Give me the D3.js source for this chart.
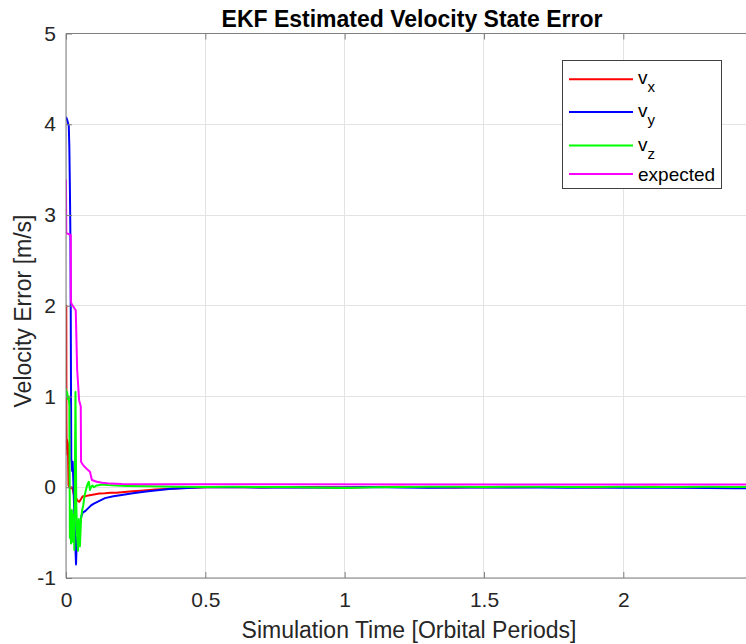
<!DOCTYPE html>
<html><head><meta charset="utf-8">
<script src="https://cdn.jsdelivr.net/npm/d3@7"></script>
<style>
body{margin:0;background:#fff;}
svg{display:block;font-family:"Liberation Sans",Arial,Helvetica,sans-serif;}
</style></head>
<body><svg id="chart" width="746" height="644"></svg>
<script>
// ---- data ----
const titleText = "EKF Estimated Velocity State Error";
const xLabelText = "Simulation Time [Orbital Periods]";
const yLabelText = "Velocity Error [m/s]";
const xTicks = [0, 0.5, 1, 1.5, 2];
const yTicks = [-1, 0, 1, 2, 3, 4, 5];

const vxT = [0,0.001,0.0015,0.002,0.003,0.004,0.005,0.006,0.007,0.009,0.012,0.016,0.02,0.024,0.028,0.032,0.036,0.042,0.048,0.054,0.06,0.07,0.08,0.09,0.1,0.12,0.14,0.16,0.18,0.2,0.24,0.28,0.32,0.36,0.4,0.45,0.5,0.6,0.7,0.8,0.9,1.0,1.1,1.2,1.3,1.4,1.5,1.6,1.7,1.8,1.9,2.0,2.1,2.2,2.3,2.4,2.5];
const vxV = [2.0,2.0,0.76,0.55,0.42,0.52,0.36,0.5,0.45,0.02,0.0,-0.01,0.0,-0.02,-0.08,-0.1,-0.12,-0.15,-0.16,-0.13,-0.1,-0.1,-0.09,-0.085,-0.08,-0.07,-0.066,-0.06,-0.06,-0.055,-0.045,-0.035,-0.025,-0.018,-0.01,-0.005,0.0,0.003,-0.002,0.004,0.0,-0.003,0.002,0.005,0.0,-0.002,0.003,0.0,0.004,0.002,-0.002,0.003,0.006,0.0,0.004,0.001,0.002];

const vyT = [0,0.004,0.01,0.012,0.014,0.016,0.017,0.018,0.019,0.021,0.022,0.024,0.026,0.03,0.033,0.036,0.039,0.042,0.046,0.05,0.055,0.06,0.07,0.08,0.09,0.1,0.12,0.14,0.17,0.2,0.24,0.28,0.32,0.37,0.42,0.47,0.5,0.6,0.7,0.8,0.9,1.0,1.1,1.2,1.3,1.4,1.5,1.6,1.7,1.8,1.9,2.0,2.1,2.2,2.3,2.4,2.5];
const vyV = [4.08,4.05,3.98,3.75,3.3,2.7,2.0,1.0,0.3,0.26,0.18,0.28,0.1,-0.3,-0.6,-0.85,-0.55,-0.6,-0.5,-0.42,-0.32,-0.28,-0.26,-0.23,-0.2,-0.18,-0.15,-0.12,-0.1,-0.085,-0.065,-0.05,-0.035,-0.02,-0.01,-0.004,0.0,0.002,-0.003,0.0,-0.004,-0.002,0.003,-0.002,-0.006,-0.003,0.0,-0.004,-0.002,-0.006,-0.003,-0.005,-0.002,-0.006,-0.008,-0.01,-0.01];

const vzT = [0,0.002,0.004,0.007,0.01,0.012,0.014,0.016,0.018,0.021,0.024,0.027,0.03,0.034,0.037,0.04,0.043,0.046,0.05,0.054,0.058,0.062,0.066,0.07,0.074,0.078,0.082,0.086,0.09,0.095,0.1,0.11,0.13,0.15,0.18,0.22,0.3,0.4,0.5,0.6,0.7,0.8,0.9,1.0,1.1,1.2,1.3,1.4,1.5,1.6,1.7,1.8,1.9,2.0,2.1,2.2,2.3,2.4,2.5];
const vzV = [1.09,1.0,1.05,0.97,1.0,0.9,-0.56,-0.3,-0.62,-0.25,-0.6,-0.3,-0.69,1.05,-0.2,-0.55,-0.7,-0.35,-0.65,-0.35,-0.25,-0.2,-0.1,-0.05,0.0,0.04,0.06,-0.03,0.0,0.02,0.0,0.02,0.03,0.025,0.02,0.015,0.01,0.005,0.004,0.006,0.003,0.004,-0.004,-0.008,0.0,0.004,0.006,0.005,0.004,0.006,0.005,0.003,0.004,0.005,0.004,0.003,0.005,0.004,0.004];

const expT = [0,0.001,0.017,0.0175,0.02,0.035,0.04,0.047,0.053,0.054,0.06,0.075,0.086,0.093,0.11,0.13,0.16,0.2,0.3,2.5];
const expV = [3.39,2.8,2.78,2.05,2.02,1.95,1.3,0.96,0.89,0.28,0.25,0.2,0.17,0.08,0.06,0.05,0.04,0.035,0.033,0.03];

const seriesNames = ["v_x", "v_y", "v_z", "expected"];
const seriesColors = ["#ff0000", "#0000ff", "#00ff00", "#ff00ff"];

// ---- layout ----
const svg = d3.select("#chart");
const L = 66, T = 33.5, B = 578;
const x = d3.scaleLinear().domain([0, 2.5]).range([L, L + 2.5 * 278.65]);
const y = d3.scaleLinear().domain([-1, 5]).range([B, T]);
const R = x(2.5);

// grid
const grid = svg.append("g");
xTicks.forEach(t => grid.append("line").attr("x1", x(t)).attr("x2", x(t)).attr("y1", T).attr("y2", B)
  .attr("stroke", "#e3e3e3").attr("stroke-width", 1).attr("shape-rendering","crispEdges"));
yTicks.forEach(t => grid.append("line").attr("x1", L).attr("x2", R).attr("y1", y(t)).attr("y2", y(t))
  .attr("stroke", "#e3e3e3").attr("stroke-width", 1).attr("shape-rendering","crispEdges"));

// clip
svg.append("defs").append("clipPath").attr("id", "clip")
  .append("rect").attr("x", L).attr("y", T).attr("width", R - L).attr("height", B - T);

const line = d3.line().x(d => x(d[0])).y(d => y(d[1]));
const series = [
  d3.zip(vxT, vxV), d3.zip(vyT, vyV), d3.zip(vzT, vzV), d3.zip(expT, expV)
];
const lines = svg.append("g").attr("clip-path", "url(#clip)");
series.forEach((s, i) => lines.append("path").attr("d", line(s)).attr("fill", "none")
  .attr("stroke", seriesColors[i]).attr("stroke-width", 2).attr("stroke-linejoin", "round"));

// axes
const axisColor = "#7f7f7f";
const tickFont = 21;
const fmt = d => String(d);
const xAxisB = svg.append("g").attr("transform", `translate(0,${B})`)
  .call(d3.axisBottom(x).tickValues(xTicks).tickSize(-6).tickPadding(14).tickFormat(fmt));
const xAxisT = svg.append("g").attr("transform", `translate(0,${T})`)
  .call(d3.axisTop(x).tickValues(xTicks).tickSize(-6).tickFormat(""));
const yAxisL = svg.append("g").attr("transform", `translate(${L},0)`)
  .call(d3.axisLeft(y).tickValues(yTicks).tickSize(-6).tickPadding(10).tickFormat(fmt));
[xAxisB, xAxisT, yAxisL].forEach(a => {
  a.selectAll(".tick line").attr("stroke", axisColor);
  a.selectAll("text").attr("fill", "#262626").attr("font-size", tickFont)
    .attr("font-family", "Liberation Sans, Arial, sans-serif");
});
svg.selectAll(".domain").remove();
svg.append("line").attr("x1", L).attr("x2", R).attr("y1", B).attr("y2", B).attr("stroke", axisColor);
svg.append("line").attr("x1", L).attr("x2", R).attr("y1", T).attr("y2", T).attr("stroke", axisColor);
svg.append("line").attr("x1", L).attr("x2", L).attr("y1", T).attr("y2", B).attr("stroke", axisColor);
svg.append("line").attr("x1", R).attr("x2", R).attr("y1", T).attr("y2", B).attr("stroke", axisColor);

// labels
svg.append("text").attr("x", 412).attr("y", 27).attr("text-anchor", "middle")
  .attr("font-size", 23).attr("font-weight", "bold").attr("fill", "#000").text(titleText);
svg.append("text").attr("x", 409).attr("y", 638).attr("text-anchor", "middle")
  .attr("font-size", 23).attr("fill", "#262626").text(xLabelText);
svg.append("text").attr("transform", "translate(31,311) rotate(-90)").attr("text-anchor", "middle")
  .attr("font-size", 23).attr("fill", "#262626").text(yLabelText);

// legend
const lg = svg.append("g");
lg.append("rect").attr("x", 562.5).attr("y", 60.5).attr("width", 159).attr("height", 128)
  .attr("fill", "#fff").attr("stroke", "#404040").attr("stroke-width", 1);
const rowY = [79.3, 112, 145.5, 174];
seriesNames.forEach((n, i) => {
  lg.append("line").attr("x1", 569).attr("x2", 633).attr("y1", rowY[i]).attr("y2", rowY[i])
    .attr("stroke", seriesColors[i]).attr("stroke-width", 2);
  const t = lg.append("text").attr("x", 638).attr("y", rowY[i] + 5).attr("font-size", 19).attr("fill", "#000");
  if (n.includes("_")) {
    const [a, b] = n.split("_");
    t.append("tspan").text(a);
    t.append("tspan").attr("dy", 8).attr("font-size", 15).text(b);
  } else {
    t.attr("y", rowY[i] + 7).text(n);
  }
});
</script></body></html>
